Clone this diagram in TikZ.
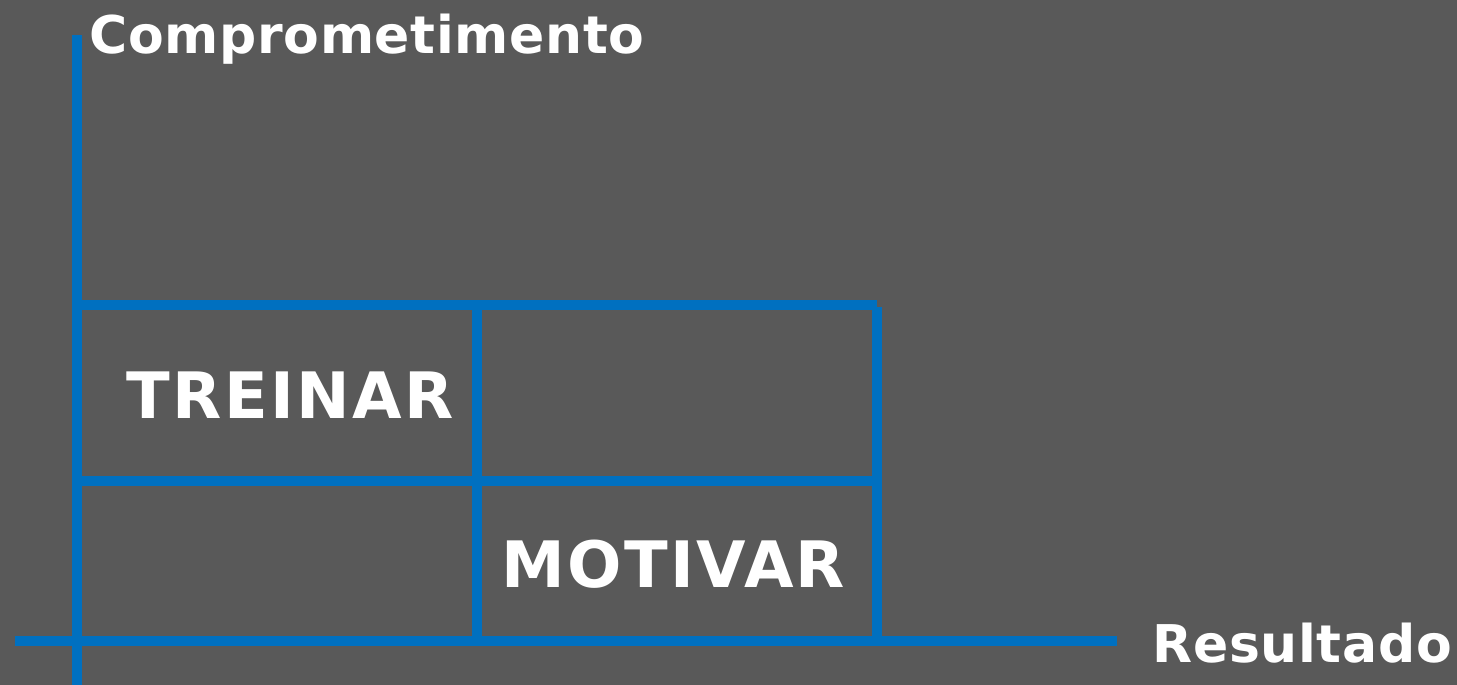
\documentclass[tikz,border=0pt]{standalone}
\usepackage{fontspec}
\setmainfont{DejaVu Sans}
\definecolor{bg}{HTML}{595959}
\definecolor{axisblue}{HTML}{0070C0}
\begin{document}
\begin{tikzpicture}[x=0.5pt, y=-0.5pt, text=white,
        axislabel/.style={anchor=base west, inner sep=0pt, font=\fontsize{26}{26}\selectfont\bfseries\addfontfeature{LetterSpace=1.3}},
        celllabel/.style={anchor=base west, inner sep=0pt, font=\fontsize{32}{32}\selectfont\bfseries\addfontfeature{LetterSpace=3.7}}]
    \fill[bg] (0,0) rectangle (1457,685);
    \useasboundingbox (0,0) rectangle (1457,685);

    \coordinate (ytop) at (77,35);
    \coordinate (ybot) at (77,685);
    \coordinate (xl) at (15,641);
    \coordinate (xr) at (1117,641);

    \draw[axisblue, line width=5pt] (ytop) to (ybot);
    \draw[axisblue, line width=5pt] (xl) to (xr);
    \draw[axisblue, line width=5pt] (72,305) to (877,305);
    \draw[axisblue, line width=5pt] (77,481) to (877,481);
    \draw[axisblue, line width=5pt] (477,305) to (477,641);
    \draw[axisblue, line width=5pt] (877,307) to (877,641);

    \node[axislabel] (c) at (89,54) {Comprometimento};
    \node[axislabel] (r) at (1152,662) {Resultado};
    \node[celllabel] (t) at (126,418) {TREINAR};
    \node[celllabel] (m) at (501,587) {MOTIVAR};
\end{tikzpicture}
\end{document}
